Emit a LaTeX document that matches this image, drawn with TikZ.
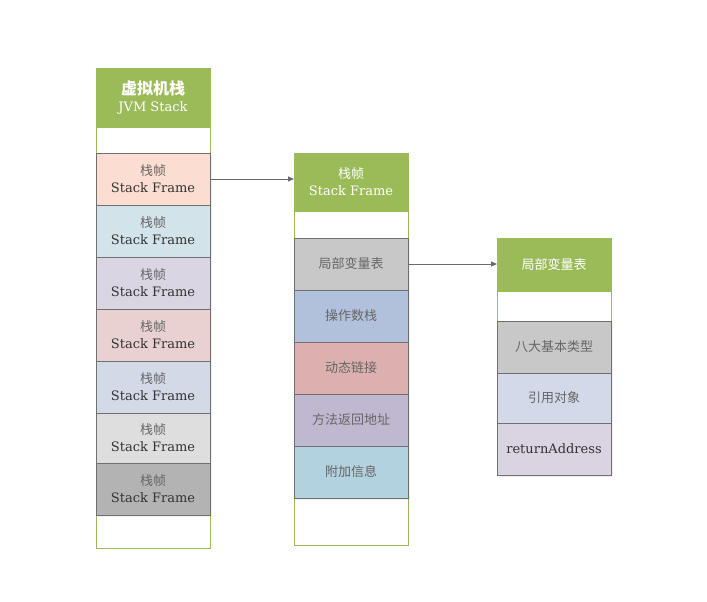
\documentclass[tikz,border=0pt]{standalone}
\usepackage{fontspec}
\setmainfont{DejaVu Serif}
\newfontfamily\cjk{Noto Sans CJK SC}
\usepackage{tikz}
\usetikzlibrary{positioning, arrows.meta, shadows}
\definecolor{headgreen}{HTML}{9BBB59}
\definecolor{cellline}{HTML}{707070}
\definecolor{textdark}{HTML}{333333}
\definecolor{textgray}{HTML}{666666}
\definecolor{arrowgray}{HTML}{6A6A6A}
\definecolor{frameA}{HTML}{FCDDD1}
\definecolor{frameB}{HTML}{D2E3EA}
\definecolor{frameC}{HTML}{DAD5E3}
\definecolor{frameD}{HTML}{EAD1D1}
\definecolor{frameE}{HTML}{D2DAE8}
\definecolor{frameF}{HTML}{DEDEDE}
\definecolor{frameG}{HTML}{B3B3B3}
\definecolor{partA}{HTML}{C8C8C8}
\definecolor{partB}{HTML}{B2C1DB}
\definecolor{partC}{HTML}{DDB0B0}
\definecolor{partD}{HTML}{C0B8D1}
\definecolor{partE}{HTML}{B2D2DF}
\definecolor{slotA}{HTML}{C8C8C8}
\definecolor{slotB}{HTML}{D2D9E8}
\definecolor{slotC}{HTML}{DAD3E1}

\begin{document}
\begin{tikzpicture}
    [
        x=1pt, y=-1pt, node distance=0pt, >={Triangle[length=6pt, width=5pt]},
        head_node/.style={rectangle, draw=headgreen, fill=headgreen, line width=0.8pt, outer sep=0pt, text=white, minimum width=114pt, inner sep=0pt, align=center, font=\fontsize{13}{17}\selectfont},
        cell_node/.style={rectangle, draw=cellline, line width=0.8pt, outer sep=0pt, minimum width=114pt, minimum height=52pt, inner sep=0pt, align=center, text=textdark, font=\fontsize{13}{17}\selectfont, drop shadow={shadow xshift=1.5pt, shadow yshift=-1.5pt, opacity=0.12}},
        box_line/.style={draw=headgreen, line width=0.8pt},
    ]
        \useasboundingbox (0,0) rectangle (707,602);
        \draw[box_line] (96,68) rectangle (210,548);
        \draw[box_line] (294,153) rectangle (408,545);
        \draw[box_line] (497,238) rectangle (611,475);
        \node[head_node, minimum height=59pt, anchor=north west] (jvm) at (96,68) {{\cjk\bfseries\fontsize{16}{20}\selectfont 虚拟机栈}\\JVM Stack} ;
        \node[cell_node, fill=frameA] (f1) [below=26pt of jvm] {{\cjk\color{textgray}栈帧}\\Stack Frame} ;
        \node[cell_node, fill=frameB] (f2) [below=of f1] {{\cjk\color{textgray}栈帧}\\Stack Frame} ;
        \node[cell_node, fill=frameC] (f3) [below=of f2] {{\cjk\color{textgray}栈帧}\\Stack Frame} ;
        \node[cell_node, fill=frameD] (f4) [below=of f3] {{\cjk\color{textgray}栈帧}\\Stack Frame} ;
        \node[cell_node, fill=frameE] (f5) [below=of f4] {{\cjk\color{textgray}栈帧}\\Stack Frame} ;
        \node[cell_node, fill=frameF, minimum height=50pt] (f6) [below=of f5] {{\cjk\color{textgray}栈帧}\\Stack Frame} ;
        \node[cell_node, fill=frameG] (f7) [below=of f6] {{\cjk\color{textgray}栈帧}\\Stack Frame} ;
        \node[head_node, minimum height=58pt, anchor=north west] (frame) at (294,153) {{\cjk 栈帧}\\Stack Frame} ;
        \node[cell_node, fill=partA, text=textgray, font=\cjk\fontsize{13}{17}\selectfont] (locals) [below=27pt of frame] {局部变量表} ;
        \node[cell_node, fill=partB, text=textgray, font=\cjk\fontsize{13}{17}\selectfont] (opstack) [below=of locals] {操作数栈} ;
        \node[cell_node, fill=partC, text=textgray, font=\cjk\fontsize{13}{17}\selectfont] (dynlink) [below=of opstack] {动态链接} ;
        \node[cell_node, fill=partD, text=textgray, font=\cjk\fontsize{13}{17}\selectfont] (retaddr) [below=of dynlink] {方法返回地址} ;
        \node[cell_node, fill=partE, text=textgray, font=\cjk\fontsize{13}{17}\selectfont] (extra) [below=of retaddr] {附加信息} ;
        \node[head_node, minimum height=53pt, anchor=north west, font=\cjk\fontsize{13}{17}\selectfont] (table) at (497,238) {局部变量表} ;
        \node[cell_node, fill=slotA, text=textgray, font=\cjk\fontsize{13}{17}\selectfont] (prim) [below=30pt of table] {八大基本类型} ;
        \node[cell_node, fill=slotB, text=textgray, font=\cjk\fontsize{13}{17}\selectfont, minimum height=50pt] (ref) [below=of prim] {引用对象} ;
        \node[cell_node, fill=slotC] (ret) [below=of ref] {returnAddress} ;
        \draw[->, line width=0.8pt, color=arrowgray] (f1) to (f1 -| frame.west) ;
        \draw[->, line width=0.8pt, color=arrowgray] (locals) to (locals -| table.west) ;
    \end{tikzpicture}
\end{document}
